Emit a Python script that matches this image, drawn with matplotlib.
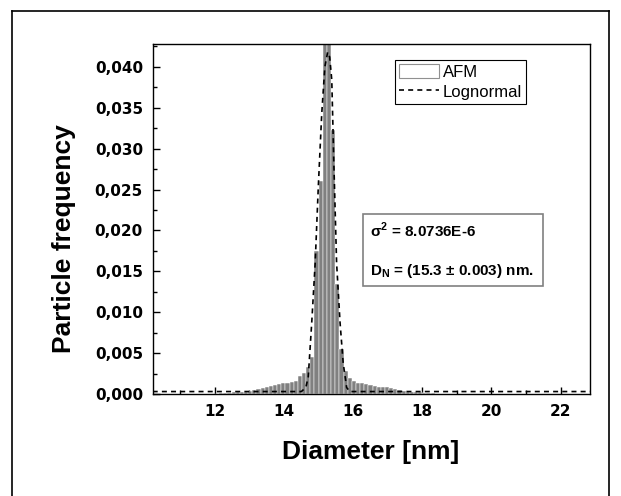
import numpy as np
import matplotlib
matplotlib.use('Agg')
import matplotlib.pyplot as plt
from matplotlib.patches import Patch, Rectangle
from matplotlib.lines import Line2D
from matplotlib.ticker import MultipleLocator, FuncFormatter

# AFM histogram: bin centers (nm) and particle frequency
bin_centers = [12.06, 12.18, 12.30, 12.42, 12.54, 12.66, 12.78, 12.90, 13.02, 13.14,
               13.26, 13.38, 13.50, 13.62, 13.74, 13.86, 13.98, 14.10, 14.22, 14.34,
               14.46, 14.58, 14.70, 14.82, 14.94, 15.06, 15.18, 15.30, 15.42, 15.54,
               15.66, 15.78, 15.90, 16.02, 16.14, 16.26, 16.38, 16.50, 16.62, 16.74,
               16.86, 16.98, 17.10, 17.22, 17.34, 17.46, 17.58, 17.70, 17.82, 17.94,
               18.06, 18.18, 18.30]
afm_freq = [0.00005, 0.0001, 0.0001, 0.0001, 0.0002, 0.0002, 0.0003, 0.0003, 0.0004, 0.0005,
            0.0006, 0.0007, 0.0008, 0.0010, 0.0011, 0.0012, 0.0013, 0.0014, 0.0015, 0.0016,
            0.0022, 0.0026, 0.0033, 0.0045, 0.0175, 0.0260, 0.0480, 0.0460, 0.0323, 0.0135,
            0.0055, 0.0028, 0.0019, 0.0016, 0.0014, 0.0013, 0.0012, 0.0011, 0.0010, 0.0009,
            0.0008, 0.0008, 0.0007, 0.0006, 0.0005, 0.0004, 0.0003, 0.0003, 0.0002, 0.0002,
            0.0001, 0.0001, 0.0001]
bin_width = 0.12

# Lognormal fit
fit_x = [10.2, 14.50, 14.63, 14.70, 14.80, 14.90, 14.99, 15.09, 15.18, 15.26,
         15.32, 15.38, 15.44, 15.52, 15.62, 15.71, 15.81, 15.90, 22.85]
fit_y = [0.0003, 0.0003, 0.0008, 0.0021, 0.0087, 0.0160, 0.0253, 0.0343, 0.0400, 0.0418,
         0.0412, 0.0384, 0.0282, 0.0160, 0.0087, 0.0038, 0.0008, 0.0003, 0.0003]

plt.rcParams['mathtext.fontset'] = 'custom'
plt.rcParams['mathtext.bf'] = 'Liberation Sans:bold'
plt.rcParams['mathtext.rm'] = 'Liberation Sans'

W, H = 621, 496
fig = plt.figure(figsize=(W / 100, H / 100), dpi=100, facecolor='white')
ax = fig.add_axes([152.7 / W, 1 - 394 / H, (590 - 152.7) / W, (394 - 44) / H])

ax.bar(bin_centers, afm_freq, width=bin_width, color='#808080',
       edgecolor='white', linewidth=0.35, zorder=2)
ax.plot(fit_x, fit_y, color='black', lw=1.2, dashes=(3, 2.5), zorder=3)

ax.set_xlim(10.2, 22.85)
ax.set_ylim(0, 0.0428)
ax.xaxis.set_major_locator(MultipleLocator(2))
ax.xaxis.set_minor_locator(MultipleLocator(1))
ax.yaxis.set_major_locator(MultipleLocator(0.005))
ax.yaxis.set_minor_locator(MultipleLocator(0.0025))
ax.yaxis.set_major_formatter(FuncFormatter(lambda v, p: f'{v:.3f}'.replace('.', ',')))
ax.tick_params(which='both', direction='in', top=False, right=False, width=1)
ax.tick_params(which='major', length=5, pad=7)
ax.tick_params(which='minor', length=3)
for lab in ax.get_xticklabels() + ax.get_yticklabels():
    lab.set_fontfamily('DejaVu Sans')
    lab.set_fontweight('bold')
    lab.set_fontsize(11)
for s in ax.spines.values():
    s.set_linewidth(1.0)

# axis titles
fig.text(64 / W, 1 - 238.5 / H, 'Particle frequency', rotation=90, ha='center', va='center',
         fontsize=19, fontweight='bold', family='Liberation Sans')
fig.text(371 / W, 1 - 452 / H, 'Diameter [nm]', ha='center', va='center',
         fontsize=19, fontweight='bold', family='Liberation Sans')

# legend
handles = [Patch(facecolor='white', edgecolor='#909090', linewidth=0.8, label='AFM'),
           Line2D([0], [0], color='black', lw=1.2, dashes=(3, 2.5), label='Lognormal')]
leg = ax.legend(handles=handles, loc='upper right', bbox_to_anchor=(0.854, 0.954),
                borderaxespad=0, fancybox=False, framealpha=1, edgecolor='black',
                prop={'family': 'Liberation Sans', 'size': 12},
                handlelength=2.4, handleheight=0.9, handletextpad=0.2,
                borderpad=0.25, labelspacing=0.25)
leg.get_frame().set_linewidth(0.8)

# parameter box
ax.add_patch(Rectangle((0.481, 0.3086), 0.8925 - 0.481, 0.5143 - 0.3086,
                       transform=ax.transAxes, facecolor='white', edgecolor='#808080',
                       linewidth=1.2, zorder=5))
ax.text(0.497, 0.4486, 'σ$^{\\mathbf{2}}$ = 8.0736E-6', transform=ax.transAxes,
        fontsize=11, fontweight='bold', family='Liberation Sans', zorder=6)
ax.text(0.497, 0.34, 'D$_{\\mathbf{N}}$ = (15.3 ± 0.003) nm.', transform=ax.transAxes,
        fontsize=11, fontweight='bold', family='Liberation Sans', zorder=6)

# outer frame of the figure
px = lambda x, y: (x / W, 1 - y / H)
for (x0, y0), (x1, y1) in [((12, 11), (12, H)), ((12, 11), (609, 11)), ((609, 11), (609, H))]:
    a, b = px(x0, y0), px(x1, y1)
    fig.add_artist(Line2D([a[0], b[0]], [a[1], b[1]], color='black', lw=1.2,
                          transform=fig.transFigure))

fig.savefig('out.png', dpi=100, facecolor='white')
